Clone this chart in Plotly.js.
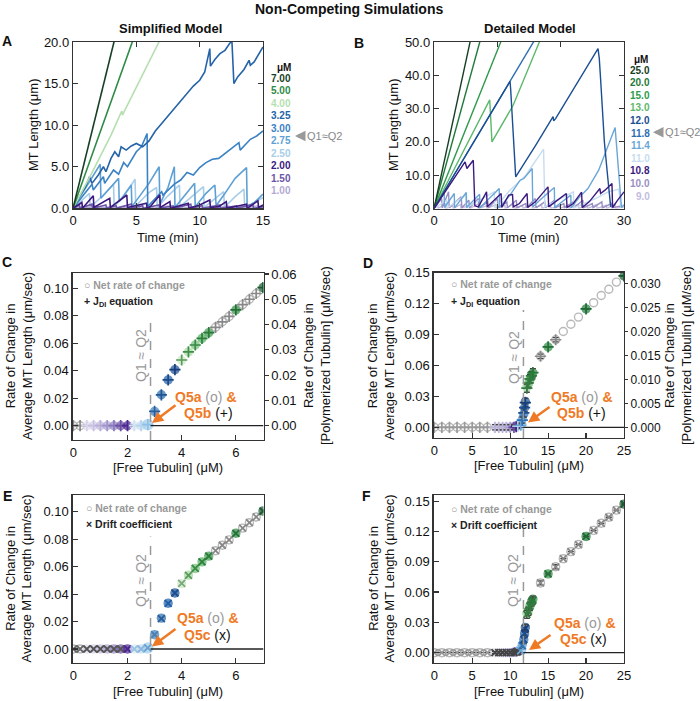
<!DOCTYPE html>
<html><head><meta charset="utf-8">
<script src="https://cdn.plot.ly/plotly-3.0.1.min.js"></script>
<style>html,body{margin:0;padding:0;background:#fff}#g{width:700px;height:701px}</style>
</head><body><div id="g"></div>
<script>
// ---------- Panel A (Simplified model, MT length vs time) ----------
const aLabels = ['7.00','5.00','4.00','3.25','3.00','2.75','2.50','2.00','1.50','1.00'];
const aColors = ['#173f24','#2e8b45','#b6dfb0','#2563a8','#3b82c4','#5ea0d4','#a8cde9','#3a1a7e','#6b55a8','#b3a9d6'];
const a700_t = [0, 1.6, 3.3];
const a700_L = [0, 9.8, 20.4];
const a500_t = [0, 1.2, 2.4, 3.6, 4.75];
const a500_L = [0, 5.1, 10.2, 15.3, 20.3];
const a400_t = [0, 1.5, 3.0, 3.85, 3.9, 5.3, 6.85];
const a400_L = [0, 4.3, 8.8, 11.7, 11.2, 15.4, 20.2];
const a325_t = [0,0.5,1.0,1.3,1.5,2.0,2.4,2.6,3.0,3.3,3.6,3.8,4.2,4.6,5.0,5.5,6.0,6.5,7.0,7.5,8.0,8.5,9.0,9.5,10.0,10.4,10.8,10.85,11.2,11.6,12.0,12.4,12.55,12.7,13.0,13.5,13.9,14.0,14.3,15.0];
const a325_L = [0,1.4,2.6,3.8,3.0,4.0,5.0,4.4,6.0,6.8,6.2,7.4,7.0,7.5,7.8,7.4,8.1,9.3,10.2,11.1,12.0,13.0,13.8,14.7,15.4,16.4,19.2,17.1,17.9,18.6,19.0,19.9,20.0,15.0,15.8,16.7,17.8,17.2,17.6,19.4];
const a300_t = [0,0.8,1.5,1.6,2.4,2.5,3.2,3.6,4.0,4.3,5.0,5.4,5.85,5.9,6.6,7.0,7.1,8.0,8.5,9.0,9.5,10.0,10.5,11.0,11.5,12.0,12.5,13.1,13.2,13.6,14.0,14.5,15.0];
const a300_L = [0,1.6,2.9,2.2,3.8,3.0,4.6,4.1,5.5,5.0,6.8,7.4,9.0,0.2,1.3,2.0,1.6,2.9,3.4,4.3,4.0,4.9,5.5,5.9,6.0,6.6,7.2,7.9,7.0,7.6,8.3,8.7,9.3];
const a275_t = [0,1.0,2.15,2.2,3.0,3.6,3.65,4.6,4.65,5.5,6.0,6.8,6.85,7.5,8.0,8.05,8.8,9.6,9.65,10.5,11.2,11.3,12.0,12.8,13.7,13.75,14.4,15.0];
const a275_L = [0,2.4,5.3,1.2,2.6,3.6,0.8,2.8,0.2,2.0,3.0,5.0,0.5,2.5,5.0,0.1,1.5,3.0,0.2,1.8,2.8,0.3,1.8,3.6,4.9,0.1,0.8,1.7];
const a250_t = [0,1.3,1.35,2.4,3.2,3.25,4.0,4.9,4.95,6.0,6.6,6.65,7.5,8.4,8.45,9.5,10.3,10.35,11.2,11.9,11.95,12.8,13.5,13.55,14.3,15.0];
const a250_L = [0,1.8,0.1,1.6,2.9,0.2,1.4,3.5,0.3,1.9,2.5,0.1,1.5,2.8,0.2,1.6,2.6,0.1,1.2,2.0,0.1,1.4,2.3,0.1,0.7,1.3];
const a200_t = [0,0.7,0.75,1.6,1.65,2.2,2.9,2.95,3.6,4.25,4.3,5.0,5.8,5.85,6.1,6.85,6.9,7.65,7.7,8.4,9.1,9.15,10.0,10.8,10.85,11.5,12.1,12.15,13.0,13.7,13.75,14.6,14.65,15.0];
const a200_L = [0,0.7,0.0,1.5,0.1,0.6,1.2,0.1,0.8,1.6,0.1,0.3,0.6,0.0,0.2,1.6,0.1,0.8,0.0,0.3,0.6,0.0,0.4,1.0,0.1,0.2,0.8,0.0,0.3,0.5,0.0,0.9,0.1,0.4];
const a150_t = [0,0.5,0.55,1.5,1.55,2.6,2.65,3.4,3.45,4.6,4.65,5.5,5.55,6.8,6.85,7.9,7.95,9.3,9.35,10.2,10.25,11.6,11.65,12.9,12.95,14.2,14.25,15.0];
const a150_L = [0,0.4,0,0.5,0,0.4,0,0.3,0,0.5,0,0.3,0,0.4,0,0.3,0,0.5,0,0.3,0,0.4,0,0.3,0,0.5,0,0.2];
const a100_t = [0,0.8,0.85,1.9,1.95,3.1,3.15,4.0,4.05,5.2,5.25,6.3,6.35,7.5,7.55,8.6,8.65,9.9,9.95,11.0,11.05,12.3,12.35,13.4,13.45,14.6,14.65,15.0];
const a100_L = [0,0.2,0,0.3,0,0.2,0,0.25,0,0.3,0,0.2,0,0.25,0,0.2,0,0.3,0,0.2,0,0.25,0,0.2,0,0.3,0,0.1];

// ---------- Panel B (Detailed model) ----------
const bLabels = ['25.0','20.0','15.0','13.0','12.0','11.8','11.4','11.0','10.8','10.0','9.0'];
const bColors = ['#173f24','#1f7a3a','#2f9a4c','#5cb86c','#1b4e93','#2e6db2','#6aa6d6','#c6ddf0','#3a1a7e','#9a90c4','#c3bcdf'];
const b250_t = [0, 5.75];           const b250_L = [0, 50.5];
const b200_t = [0, 7.3];            const b200_L = [0, 50.5];
const b150_t = [0, 10.6];           const b150_L = [0, 50.3];
const b130_t = [0,4.4,8.8,9.15,12.5,16.7];
const b130_L = [0,16.3,32.6,20.0,31.0,50.3];
const b120_t = [0,6.0,12.0,12.1,12.9,16.0,18.8,18.9,19.2,25.9,26.1,26.3,26.9,27.4,27.9];
const b120_L = [0,19.0,38.2,36.0,9.5,18.8,27.6,26.3,27.0,48.0,45.0,39.0,20.0,10.0,0.5];
const b118_t = [0,6.0,11.8,12.1,15.8];
const b118_L = [0,19.2,37.5,38.5,50.3];
const b114_t = [0,1.0,1.6,1.65,2.7,3.2,3.25,4.3,5.1,5.15,6.5,7.2,7.25,9.0,10.3,10.35,12.0,13.6,14.2,15.5,15.6,17.0,18.7,19.0,19.05,20.5,21.6,21.65,23.0,24.3,26.0,28.6,29.6,30.0];
const b114_L = [0,3.2,4.8,0.3,3.0,4.5,0.2,3.0,4.8,0.3,2.8,4.3,0.2,3.5,6.0,0.3,4.0,8.5,9.0,12.0,0.5,3.0,6.0,6.3,0.3,2.5,4.0,0.2,3.5,6.0,11.5,24.3,0.3,1.0];
const b110_t = [0,2.0,2.1,5.0,5.1,8.0,9.5,9.6,12.0,14.5,17.3,17.5,20.0,22.0,22.1,25.5,27.5,29.2,29.5,30.0];
const b110_L = [0,2.5,0.2,4.0,0.3,3.5,5.0,0.2,5.5,10.0,17.8,0.5,3.0,5.0,0.2,3.0,5.0,5.8,0.5,1.0];
const b108_t = [0,4.9,5.2,6.2,6.45,7.0,8.3,8.4,9.5,10.6,10.7,11.8,12.4,12.5,13.5,14.7,14.8,16.0,18.0,18.1,19.5,20.9,21.0,22.0,23.3,23.4,24.5,26.2,26.3,27.0,28.1,28.2,29.0,30.0];
const b108_L = [0,14.0,12.0,14.5,0.8,0.5,5.0,0.5,2.5,4.5,0.3,4.0,4.2,0.5,1.5,4.5,0.3,2.0,6.5,0.5,2.5,4.5,0.3,1.5,4.9,0.3,2.0,6.0,4.5,5.5,7.5,0.3,2.5,5.0];
const b100_t = [0,1.2,1.3,2.3,2.4,4.3,4.4,5.5,5.6,7.0,7.1,8.5,8.6,10.0,10.1,11.5,11.6,13.0,13.1,14.5,14.6,16.0,16.1,17.5,17.6,19.0,19.1,20.5,20.6,22.0,22.1,23.5,23.6,25.0,25.1,26.5,26.6,28.0,28.1,30.0];
const b100_L = [0,3.0,0.2,5.0,0.2,3.5,0.2,2.5,0.2,3.0,0.2,2.0,0.2,3.0,0.2,2.0,0.2,2.5,0.2,1.5,0.2,3.0,0.2,2.0,0.2,2.5,0.2,1.5,0.2,2.0,0.2,2.5,0.2,1.5,0.2,2.0,0.2,1.5,0.2,1.0];
const b90_t = [0,0.6,0.65,1.8,1.85,3.0,3.05,4.2,4.25,5.6,5.65,7.0,7.05,8.3,8.35,9.8,9.85,11.2,11.25,12.6,12.65,14.0,14.05,15.5,15.55,17.0,17.05,18.4,18.45,19.8,19.85,21.3,21.35,22.8,22.85,24.2,24.25,25.7,25.75,27.2,27.25,28.6,28.65,30.0];
const b90_L = [0,1.0,0,1.5,0,0.8,0,1.2,0,1.0,0,1.4,0,0.8,0,1.2,0,1.0,0,1.5,0,0.9,0,1.2,0,1.0,0,1.4,0,0.8,0,1.1,0,1.3,0,0.9,0,1.2,0,1.0,0,1.3,0,0.5];

// ---------- Panels C & E (Simplified model rates) ----------
const cX = [0,0.25,0.5,0.75,1.0,1.25,1.5,1.75,2.0,2.25,2.5,2.75,3.0,3.25,3.5,3.75,4.0,4.25,4.5,4.75,5.0,5.25,5.5,5.75,6.0,6.25,6.5,6.75,7.0];
const cNet = [0,0,0,0,0,0,0,0,0,0,0,0.0008,0.0104,0.0225,0.0333,0.0408,0.0476,0.0537,0.0587,0.0635,0.0677,0.0716,0.0756,0.0795,0.0843,0.0881,0.0920,0.0962,0.1005];
const cJdi = [0,0,0,0,0,0,0,0,0,0,0,0.0008,0.0104,0.0225,0.0333,0.0408,0.0478,0.0537,0.0587,0.0635,0.0677,0.0716,0.0756,0.0795,0.0843,0.0881,0.0920,0.0962,0.1005];
const eDrift = [0,0,0,0,0,0,0,0,0,0,0,0.0008,0.0104,0.0222,0.0333,0.0408,0.0478,0.0537,0.0587,0.0635,0.0677,0.0716,0.0756,0.0795,0.0843,0.0881,0.0920,0.0962,0.1005];
const cCircleCol = ['#9a9a9a','#9a9a9a','#e2def0','#d5cfe8','#c4bce0','#b0a4d4','#9486c4','#6f55a8','#4b2590','#dde9f5','#c2dcef','#9ccbeb','#3a80c0','#2a6db0','#1f5fa8','#1a4f94','#c9e8c3','#a4d79f','#6fbf72','#4caf5a','#3a9a4a','#9a9a9a','#9a9a9a','#9a9a9a','#2e8b3e','#9a9a9a','#9a9a9a','#9a9a9a','#1a5a30'];
const cCircleOpen = [1,1,0,0,0,0,0,0,0,0,0,0,0,0,0,0,0,0,0,0,0,1,1,1,0,1,1,1,0];
const cPlusCol = ['#888','#888','#d8d2ea','#c8c0e0','#b8aed8','#a194cb','#8a78bd','#6a4fa3','#4b2590','#cfe2f2','#b5d4ec','#8cc0e6','#2a5f9c','#1f5592','#1a4a88','#163f7c','#5a9a5a','#3e8e48','#3a8a48','#2e7e3e','#2a7a3a','#888','#888','#888','#24703a','#888','#888','#888','#1a5a30'];
const eXCol = ['#666','#666','#555','#555','#555','#555','#555','#555','#4b2590','#9cc3e2','#8ab8de','#6a9fcf','#4a7fae','#2a5d9a','#1f5fa8','#1a4f94','#7aaa7a','#5a9a5a','#3a8a48','#2e7e3e','#2a7a3a','#888','#888','#888','#24703a','#888','#888','#888','#1a5a30'];
const qC = 2.85;

// ---------- Panels D & F (Detailed model rates) ----------
const dX = [0,1,2,3,4,5,6,7,8,8.5,9,9.5,10,10.5,10.8,11,11.4,11.6,11.8,11.9,12,12.2,12.4,12.6,12.8,13,14,15,16,17,18,19,20,21,22,23,24,25];
const dNet = [0,0,0,0,0,0,0,0,0,0,0,0,0,0.0005,0.001,0.001,0.003,0.008,0.013,0.019,0.025,0.039,0.042,0.046,0.050,0.053,0.069,0.078,0.085,0.093,0.100,0.107,0.115,0.121,0.128,0.134,0.141,0.147];
const dJdi = [0,0,0,0,0,0,0,0,0,0,0,0,0,0,0.0005,0.001,0.002,0.007,0.014,0.019,0.024,0.038,0.043,0.047,0.050,0.053,0.069,0.078,0.085,null,null,null,0.115,null,null,null,null,0.147];
const dJdiErr = [0,0,0,0,0,0,0,0,0.0025,0.0025,0.0025,0.0025,0.0025,0.002,0.002,0.002,0.002,0.003,0.004,0.004,0.004,0.004,0.004,0.004,0.004,0.004,0.002,0,0.002,0,0,0,0,0,0,0,0,0];
const fDrift = [0,0,0,0,0,0,0,0,0,0,0,0,0,0,0.0005,0.001,0.002,0.007,0.013,0.019,0.024,0.038,0.041,0.046,0.050,0.052,0.069,0.078,0.085,0.093,0.100,0.107,0.115,0.121,0.128,0.134,0.141,0.147];
const fDriftErr = [0,0,0,0,0,0,0,0,0.001,0.001,0.001,0.001,0.001,0.001,0.001,0.001,0.002,0.003,0.004,0.004,0.004,0.004,0.004,0.004,0.004,0.004,0.002,0,0.002,0,0,0,0,0,0,0,0,0];
const dCircleCol = ['#9a9a9a','#9a9a9a','#9a9a9a','#9a9a9a','#9a9a9a','#9a9a9a','#9a9a9a','#9a9a9a','#e4e1f0','#dcd8ec','#d2cce6','#c8c0e0','#b6acd6','#8a7abd','#4b2590','#d3e4f3','#8fc2e8','#5d9ed3','#2f6fb4','#245fa3','#1a4f94','#8fd08f','#6abf70','#4caf5a','#3a9a4a','#2f8f45','#9a9a9a','#2e8b3e','#9a9a9a','#9a9a9a','#9a9a9a','#9a9a9a','#1e7a38','#9a9a9a','#9a9a9a','#9a9a9a','#9a9a9a','#1a5a30'];
const dCircleOpen = [1,1,1,1,1,1,1,1,0,0,0,0,0,0,0,0,0,0,0,0,0,0,0,0,0,0,1,0,1,1,1,1,0,1,1,1,1,0];
const dPlusCol = ['#999','#999','#999','#999','#999','#999','#999','#999','#bbb4d8','#bbb4d8','#bbb4d8','#bbb4d8','#a89ccf','#6a4fa3','#3a1a7e','#b0cfe9','#6aa6d6','#2f6fb4','#1b4e93','#1b4e93','#163f7c','#3a7a44','#3a7a44','#2e7e3e','#2e7e3e','#2a7a3a','#888','#24703a','#888','#888','#888','#888','#1e6a34','#888','#888','#888','#888','#1a5a30'];
const fXCol = ['#999','#999','#999','#999','#999','#999','#999','#999','#444','#444','#444','#444','#444','#444','#444','#444','#6aa6d6','#2f6fb4','#1b4e93','#1b4e93','#163f7c','#3a7a44','#3a7a44','#2e7e3e','#2e7e3e','#2a7a3a','#888','#24703a','#888','#888','#888','#888','#1e6a34','#888','#888','#888','#888','#1a5a30'];
const qD = 11.75;

// ---------- helpers ----------
const W = 700, H = 701;
const FONT = 'Arial, "Liberation Sans", Helvetica, sans-serif';
const xd = (a, b) => [a / W, b / W];
const yd = (top, bot) => [1 - bot / H, 1 - top / H];
function ann(px, py, text, o) {
  return Object.assign({xref: 'paper', yref: 'paper', x: px / W, y: 1 - py / H, text: text,
    showarrow: false, xanchor: 'center', yanchor: 'middle',
    font: {family: FONT, size: 13, color: '#111'}}, o || {});
}
function axis(o) {
  return Object.assign({showgrid: false, zeroline: false, showline: true, linecolor: '#333', linewidth: 1.2,
    ticks: 'inside', ticklen: 5, tickwidth: 1.1, tickcolor: '#333',
    tickfont: {family: FONT, size: 13, color: '#111'}, fixedrange: true}, o);
}
function line(t, L, color, xa, ya, w) {
  return {x: t, y: L, xaxis: xa, yaxis: ya, mode: 'lines', line: {color: color, width: w || 1.5},
    hoverinfo: 'skip', showlegend: false};
}
const sym = (open) => open.map(v => v ? 'circle-open' : 'circle');
const sizes = (xs, big) => xs.map(v => big.includes(v) ? 10 : 8);

const traces = [];
// Panel A lines (greens, blues, purples)
const aT = [a700_t,a500_t,a400_t,a325_t,a300_t,a275_t,a250_t,a200_t,a150_t,a100_t];
const aL = [a700_L,a500_L,a400_L,a325_L,a300_L,a275_L,a250_L,a200_L,a150_L,a100_L];
const aOrder = [6,5,4,3,2,1,0,9,8,7];
aOrder.forEach(i => traces.push(line(aT[i], aL[i], aColors[i], 'x', 'y', 1.6)));
// Panel B lines
const bT = [b250_t,b200_t,b150_t,b130_t,b120_t,b118_t,b114_t,b110_t,b108_t,b100_t,b90_t];
const bL = [b250_L,b200_L,b150_L,b130_L,b120_L,b118_L,b114_L,b110_L,b108_L,b100_L,b90_L];
const bOrder = [10,9,7,6,3,2,1,0,5,4,8];
bOrder.forEach(i => traces.push(line(bT[i], bL[i], bColors[i], 'x2', 'y2', 1.4)));

// Panel C
traces.push({x: cX, y: cNet, xaxis: 'x3', yaxis: 'y3', mode: 'markers', hoverinfo: 'skip', showlegend: false,
  marker: {symbol: sym(cCircleOpen), color: cCircleCol, size: sizes(cX, [2.75]), line: {width: 1.4, color: cCircleCol}}});
traces.push({x: cX, y: cJdi, xaxis: 'x3', yaxis: 'y3', mode: 'markers', hoverinfo: 'skip', showlegend: false,
  marker: {symbol: 'cross-thin-open', color: cPlusCol, size: 8, line: {width: 1.7, color: cPlusCol}}});
// right axis of C (polymerized tubulin scale)
traces.push({x: [null], y: [null], xaxis: 'x3', yaxis: 'y4', mode: 'markers', hoverinfo: 'skip', showlegend: false});

// Panel D
traces.push({x: dX, y: dNet, xaxis: 'x4', yaxis: 'y5', mode: 'markers', hoverinfo: 'skip', showlegend: false,
  marker: {symbol: sym(dCircleOpen), color: dCircleCol, size: sizes(dX, [11.4]), line: {width: 1.4, color: dCircleCol}}});
traces.push({x: dX, y: dJdi, xaxis: 'x4', yaxis: 'y5', mode: 'markers', hoverinfo: 'skip', showlegend: false,
  error_y: {type: 'data', array: dJdiErr, color: '#444', thickness: 1.3, width: 3},
  marker: {symbol: 'cross-thin-open', color: dPlusCol, size: 8, line: {width: 1.7, color: dPlusCol}}});
traces.push({x: [null], y: [null], xaxis: 'x4', yaxis: 'y6', mode: 'markers', hoverinfo: 'skip', showlegend: false});

// Panel E
traces.push({x: cX, y: cNet, xaxis: 'x5', yaxis: 'y7', mode: 'markers', hoverinfo: 'skip', showlegend: false,
  marker: {symbol: sym(cCircleOpen), color: cCircleCol, size: sizes(cX, [2.75]), line: {width: 1.4, color: cCircleCol}}});
traces.push({x: cX, y: eDrift, xaxis: 'x5', yaxis: 'y7', mode: 'markers', hoverinfo: 'skip', showlegend: false,
  marker: {symbol: 'x-thin-open', color: eXCol, size: 7, line: {width: 1.8, color: eXCol}}});

// Panel F
traces.push({x: dX, y: dNet, xaxis: 'x6', yaxis: 'y8', mode: 'markers', hoverinfo: 'skip', showlegend: false,
  marker: {symbol: sym(dCircleOpen), color: dCircleCol, size: sizes(dX, [11.4]), line: {width: 1.4, color: dCircleCol}}});
traces.push({x: dX, y: fDrift, xaxis: 'x6', yaxis: 'y8', mode: 'markers', hoverinfo: 'skip', showlegend: false,
  error_y: {type: 'data', array: fDriftErr, color: '#444', thickness: 1.3, width: 3},
  marker: {symbol: 'x-thin-open', color: fXCol, size: 7, line: {width: 1.8, color: fXCol}}});

// ---------- shapes: Q1≈Q2 dashed markers and zero lines ----------
const shapes = [
  {type: 'line', xref: 'x3', yref: 'y3', x0: qC, x1: qC, y0: -0.0104, y1: 0.078, line: {color: '#999', width: 1.5, dash: 'dash'}},
  {type: 'line', xref: 'x3', yref: 'y3', x0: qC, x1: 7.02, y0: 0, y1: 0, line: {color: '#222', width: 1.3}},
  {type: 'line', xref: 'x4', yref: 'y5', x0: qD, x1: qD, y0: -0.0104, y1: 0.114, line: {color: '#999', width: 1.5, dash: 'dash'}},
  {type: 'line', xref: 'x4', yref: 'y5', x0: qD, x1: 25, y0: 0, y1: 0, line: {color: '#222', width: 1.3}},
  {type: 'line', xref: 'x5', yref: 'y7', x0: qC, x1: qC, y0: -0.0102, y1: 0.082, line: {color: '#999', width: 1.5, dash: 'dash'}},
  {type: 'line', xref: 'x5', yref: 'y7', x0: qC, x1: 7.02, y0: 0, y1: 0, line: {color: '#222', width: 1.3}},
  {type: 'line', xref: 'x6', yref: 'y8', x0: qD, x1: qD, y0: -0.0102, y1: 0.133, line: {color: '#999', width: 1.5, dash: 'dash'}},
  {type: 'line', xref: 'x6', yref: 'y8', x0: qD, x1: 25, y0: 0, y1: 0, line: {color: '#222', width: 1.3}}
];

// ---------- annotations ----------
const B = (s, c) => ({family: FONT, size: s, color: c || '#111'});
const anns = [];
anns.push(ann(349, 9, '<b>Non-Competing Simulations</b>', {font: B(14)}));
anns.push(ann(170, 28, '<b>Simplified Model</b>', {font: B(13)}));
anns.push(ann(530, 28, '<b>Detailed Model</b>', {font: B(13)}));
[['A',7,41],['B',359,43],['C',7,262],['D',368,263],['E',7,496],['F',367,496]].forEach(p =>
  anns.push(ann(p[1], p[2], '<b>' + p[0] + '</b>', {font: B(14)})));
// axis titles
anns.push(ann(33, 125, 'MT Length (μm)', {textangle: -90}));
anns.push(ann(393, 125, 'MT Length (μm)', {textangle: -90}));
anns.push(ann(168, 237, 'Time (min)'));
anns.push(ann(529, 237, 'Time (min)'));
const leftT = 'Rate of Change in<br>Average MT Length (μm/sec)';
const rightT = 'Rate of Change in<br>[Polymerized Tubulin] (μM/sec)';
anns.push(ann(19, 356, leftT, {textangle: -90}));
anns.push(ann(317, 356, rightT, {textangle: -90}));
anns.push(ann(381, 356, leftT, {textangle: -90}));
anns.push(ann(678, 356, rightT, {textangle: -90}));
anns.push(ann(18.5, 579, leftT, {textangle: -90}));
anns.push(ann(381.5, 579, leftT, {textangle: -90}));
anns.push(ann(168, 467.5, '[Free Tubulin] (μM)'));
anns.push(ann(529, 465, '[Free Tubulin] (μM)'));
anns.push(ann(168, 691, '[Free Tubulin] (μM)'));
anns.push(ann(529, 691, '[Free Tubulin] (μM)'));
// concentration legends for A and B
anns.push(ann(284, 67, '<b>μM</b>', {font: B(10)}));
aLabels.forEach((lab, i) => anns.push(ann(293, 78.3 + i * 12.5, '<b>' + lab + '</b>', {xanchor: 'right', font: B(10, aColors[i])})));
anns.push(ann(641, 59, '<b>μM</b>', {font: B(10)}));
bLabels.forEach((lab, i) => anns.push(ann(652, 70 + i * 12.6, '<b>' + lab + '</b>', {xanchor: 'right', font: B(10, bColors[i])})));
anns.push({xref: 'paper', yref: 'paper', x: 295 / W, y: 1 - 136 / H, ax: 9, ay: 0, text: '', showarrow: true,
  arrowhead: 2, arrowsize: 0.7, arrowwidth: 3, arrowcolor: '#999'});
anns.push(ann(305, 136, 'Q1≈Q2', {xanchor: 'left', font: B(11, '#888')}));
anns.push({xref: 'paper', yref: 'paper', x: 653 / W, y: 1 - 132.3 / H, ax: 9, ay: 0, text: '', showarrow: true,
  arrowhead: 2, arrowsize: 0.7, arrowwidth: 3, arrowcolor: '#999'});
anns.push(ann(663, 132.3, 'Q1≈Q2', {xanchor: 'left', font: B(11, '#888')}));
// in-plot legends
const netTxt = '<b>○ Net rate of change</b>';
anns.push(ann(82, 285, netTxt, {xanchor: 'left', font: B(10.5, '#999')}));
anns.push(ann(82, 302.5, '<b>+ J<sub>DI</sub> equation</b>', {xanchor: 'left', font: B(10.5, '#222')}));
anns.push(ann(449, 284, netTxt, {xanchor: 'left', font: B(10.5, '#999')}));
anns.push(ann(449, 301.5, '<b>+ J<sub>DI</sub> equation</b>', {xanchor: 'left', font: B(10.5, '#222')}));
anns.push(ann(84, 508, netTxt, {xanchor: 'left', font: B(10.5, '#999')}));
anns.push(ann(84, 523.5, '<b>× Drift coefficient</b>', {xanchor: 'left', font: B(10.5, '#222')}));
anns.push(ann(449, 509, netTxt, {xanchor: 'left', font: B(10.5, '#999')}));
anns.push(ann(449, 524.5, '<b>× Drift coefficient</b>', {xanchor: 'left', font: B(10.5, '#222')}));
// Q1 ≈ Q2 rotated labels
anns.push(ann(141, 356, 'Q1 ≈ Q2', {textangle: -90, font: B(14, '#999')}));
anns.push(ann(514, 358, 'Q1 ≈ Q2', {textangle: -90, font: B(14, '#999')}));
anns.push(ann(141, 581, 'Q1 ≈ Q2', {textangle: -90, font: B(14, '#999')}));
anns.push(ann(513, 581, 'Q1 ≈ Q2', {textangle: -90, font: B(14, '#999')}));
// Q5 orange labels + arrows
const OR = '#ef7a26';
const q5a = '<b>Q5a</b> <span style="color:#999">(o)</span> <b>&amp;</b>';
function q5(px1, py1, px2, py2, second, hx, hy, tx, ty) {
  anns.push(ann(px1, py1, q5a, {xanchor: 'left', font: B(14, OR)}));
  anns.push(ann(px2, py2, second, {xanchor: 'left', font: B(14, OR)}));
  anns.push({xref: 'paper', yref: 'paper', x: hx / W, y: 1 - hy / H, ax: tx - hx, ay: ty - hy, text: '',
    showarrow: true, arrowhead: 2, arrowsize: 0.9, arrowwidth: 2.5, arrowcolor: OR});
}
q5(173, 397, 182, 413, '<b>Q5b</b> <span style="color:#111">(+)</span>', 152, 423, 177, 404);
q5(549, 397, 555, 413, '<b>Q5b</b> <span style="color:#111">(+)</span>', 528, 422.5, 551, 406);
q5(175, 618, 182, 635, '<b>Q5c</b> <span style="color:#111">(x)</span>', 152, 646.5, 177, 628);
q5(552, 623, 558, 639, '<b>Q5c</b> <span style="color:#111">(x)</span>', 529, 650, 552, 634);

const layout = {
  width: W, height: H, margin: {l: 0, r: 0, t: 0, b: 0}, paper_bgcolor: '#fff', plot_bgcolor: '#fff',
  showlegend: false, font: {family: FONT, color: '#111'},
  xaxis: axis({domain: xd(73, 263), range: [0, 15], tickvals: [0, 5, 10, 15], anchor: 'y', mirror: 'ticks'}),
  yaxis: axis({domain: yd(42, 208.3), range: [0, 20], tickvals: [0, 5, 10, 15, 20], tickformat: '.1f', anchor: 'x', mirror: 'ticks'}),
  xaxis2: axis({domain: xd(434, 624), range: [0, 30], tickvals: [0, 10, 20, 30], anchor: 'y2', mirror: 'ticks'}),
  yaxis2: axis({domain: yd(42, 208.5), range: [0, 50], tickvals: [0, 10, 20, 30, 40, 50], tickformat: '.1f', anchor: 'x2', mirror: 'ticks'}),
  xaxis3: axis({domain: xd(72.5, 263.5), range: [-0.03, 7.02], tickvals: [0, 2, 4, 6], anchor: 'y3', mirror: true}),
  yaxis3: axis({domain: yd(273, 440), range: [-0.0104, 0.1111], tickvals: [0, 0.02, 0.04, 0.06, 0.08, 0.10], tickformat: '.2f', anchor: 'x3'}),
  yaxis4: axis({overlaying: 'y3', side: 'right', anchor: 'x3', range: [-0.00566, 0.0604], tickvals: [0, 0.01, 0.02, 0.03, 0.04, 0.05, 0.06], tickformat: '.2f', ticks: 'outside', ticklen: 4}),
  xaxis4: axis({domain: xd(433.5, 624), range: [-0.1, 25], tickvals: [0, 5, 10, 15, 20, 25], anchor: 'y5', mirror: true}),
  yaxis5: axis({domain: yd(272.5, 438), range: [-0.0104, 0.1503], tickvals: [0, 0.03, 0.06, 0.09, 0.12, 0.15], tickformat: '.2f', anchor: 'x4'}),
  yaxis6: axis({overlaying: 'y5', side: 'right', anchor: 'x4', range: [-0.00223, 0.03225], tickvals: [0, 0.005, 0.01, 0.015, 0.02, 0.025, 0.03], tickformat: '.3f', ticks: 'outside', ticklen: 3, tickfont: {family: FONT, size: 12, color: '#111'}}),
  xaxis5: axis({domain: xd(72.5, 263.5), range: [-0.03, 7.02], tickvals: [0, 2, 4, 6], anchor: 'y7', mirror: true}),
  yaxis7: axis({domain: yd(495, 663), range: [-0.0102, 0.1122], tickvals: [0, 0.02, 0.04, 0.06, 0.08, 0.10], tickformat: '.2f', anchor: 'x5', mirror: true}),
  xaxis6: axis({domain: xd(433.5, 624), range: [-0.1, 25], tickvals: [0, 5, 10, 15, 20, 25], anchor: 'y8', mirror: true}),
  yaxis8: axis({domain: yd(495, 663), range: [-0.0102, 0.156], tickvals: [0, 0.03, 0.06, 0.09, 0.12, 0.15], tickformat: '.2f', anchor: 'x6', mirror: true}),
  shapes: shapes, annotations: anns
};
Plotly.newPlot('g', traces, layout, {staticPlot: true, displayModeBar: false});
</script></body></html>
